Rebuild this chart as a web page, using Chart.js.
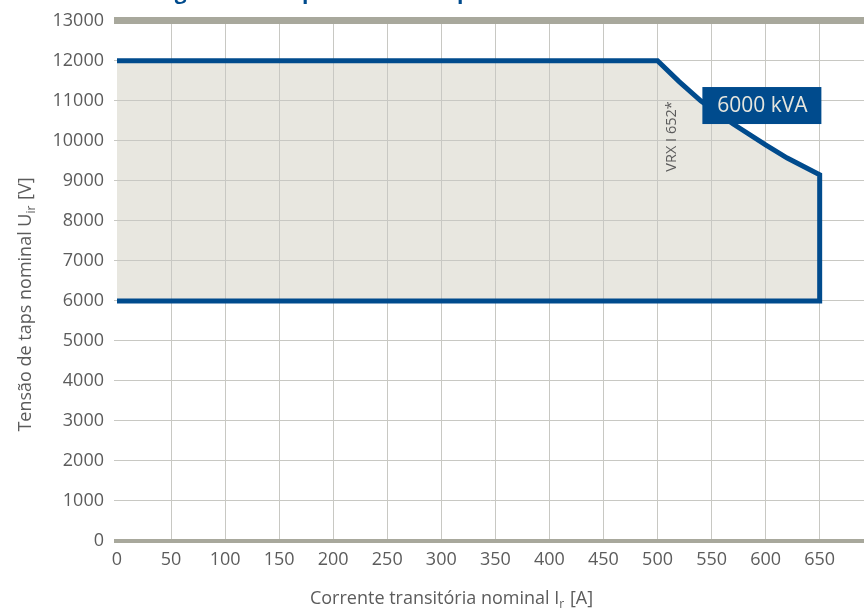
<!DOCTYPE html>
<html>
<head>
<meta charset="utf-8">
<script src="https://cdn.jsdelivr.net/npm/chart.js@4/dist/chart.umd.min.js"></script>
<style>
html, body { margin: 0; padding: 0; background: #fff; }
</style>
</head>
<body>
<canvas id="chart" width="864" height="610"></canvas>
<script>
// operating window boundary (current A, voltage V)
var currentA = [0, 500, 520, 540, 570, 600, 620, 650, 650, 0];
var voltageV = [12000, 12000, 11480, 11000, 10420, 9900, 9570, 9150, 6000, 6000];
var xTicks = [0, 50, 100, 150, 200, 250, 300, 350, 400, 450, 500, 550, 600, 650];
var yTicks = [0, 1000, 2000, 3000, 4000, 5000, 6000, 7000, 8000, 9000, 10000, 11000, 12000, 13000];

var ratingLabel = "6000 kVA";
var ratingPos = [597, 10870];
var typeLabel = "VRX I 652*";
var typePos = [513, 10110];
var titleText = "Diagrama de capacidade de ruptura do comutador";

var blue = "#004b8d";
var textGray = "#5c5c5c";
var font = "'Open Sans', 'DejaVu Sans', sans-serif";

// width of "main" + subscript + "rest"
function textWidthSub(c, main, sub, rest) {
    c.font = "18px " + font;
    var w = c.measureText(main).width + c.measureText(rest).width;
    c.font = "12px " + font;
    return w + c.measureText(sub).width;
}
function drawSub(c, main, sub, rest, x, y) {
    c.font = "18px " + font;
    c.fillText(main, x, y);
    x += c.measureText(main).width;
    c.font = "12px " + font;
    c.fillText(sub, x, y + 4);
    x += c.measureText(sub).width + 1;
    c.font = "18px " + font;
    c.fillText(rest, x, y);
}

var notesPlugin = {
    id: 'notes',
    afterDatasetsDraw: function (chart) {
        var c = chart.ctx;
        var xs = chart.scales.x, ys = chart.scales.y;
        c.save();
        // rating box
        var bx = xs.getPixelForValue(ratingPos[0]);
        var by = ys.getPixelForValue(ratingPos[1]);
        c.fillStyle = blue;
        c.fillRect(bx - 60, by - 19, 119, 37);
        c.fillStyle = "#e6e6de";
        c.font = "21px " + font;
        c.textAlign = "center";
        c.textBaseline = "middle";
        c.fillText(ratingLabel, bx, by);
        // rotated type label
        var tx = xs.getPixelForValue(typePos[0]);
        var ty = ys.getPixelForValue(typePos[1]);
        c.translate(tx, ty);
        c.rotate(-Math.PI / 2);
        c.fillStyle = textGray;
        c.font = "14.5px " + font;
        c.fillText(typeLabel, 0, 0);
        c.restore();
    },
    afterDraw: function (chart) {
        var c = chart.ctx;
        c.save();
        c.fillStyle = textGray;
        c.textAlign = "left";
        c.textBaseline = "alphabetic";
        // x title
        var w = textWidthSub(c, "Corrente transitória nominal I", "r", " [A]");
        drawSub(c, "Corrente transitória nominal I", "r", " [A]", 451 - w / 2, 604);
        // y title
        c.translate(31, 305);
        c.rotate(-Math.PI / 2);
        w = textWidthSub(c, "Tensão de taps nominal U", "ir", " [V]");
        drawSub(c, "Tensão de taps nominal U", "ir", " [V]", -w / 2, 0);
        c.restore();
        // cut off heading at the very top
        c.save();
        c.fillStyle = blue;
        c.font = "bold 21px " + font;
        c.textBaseline = "alphabetic";
        c.fillText(titleText, 140, -1);
        c.restore();
    }
};

var points = [];
for (var i = 0; i < currentA.length; i++) {
    points.push({x: currentA[i], y: voltageV[i]});
}

new Chart(document.getElementById("chart").getContext("2d"), {
    type: 'scatter',
    data: {
        datasets: [{
            data: points,
            showLine: true,
            borderColor: blue,
            borderWidth: 5,
            borderJoinStyle: 'miter',
            borderCapStyle: 'butt',
            backgroundColor: "#e8e7e0",
            fill: 'shape',
            pointRadius: 0,
            tension: 0
        }]
    },
    options: {
        responsive: false,
        animation: false,
        layout: {padding: {top: 19, right: 0, bottom: 0, left: 0}},
        plugins: {
            legend: {display: false},
            tooltip: {enabled: false},
            filler: {drawTime: 'beforeDraw'}
        },
        scales: {
            x: {
                type: 'linear',
                min: 0,
                max: 691,
                afterBuildTicks: function (axis) {
                    axis.ticks = xTicks.map(function (v) { return {value: v}; });
                },
                afterFit: function (scale) { scale.height = 69; },
                border: {display: false},
                grid: {
                    drawTicks: false,
                    color: function (ctx) {
                        return ctx.tick && ctx.tick.value === 0 ? "rgba(0,0,0,0)" : "#c8c8c3";
                    },
                    lineWidth: 1
                },
                ticks: {
                    color: textGray,
                    font: {family: font, size: 18},
                    padding: 8,
                    maxRotation: 0,
                    autoSkip: false,
                    callback: function (v) { return String(v); }
                }
            },
            y: {
                min: 0,
                max: 13000,
                afterBuildTicks: function (axis) {
                    axis.ticks = yTicks.map(function (v) { return {value: v}; });
                },
                afterFit: function (scale) { scale.width = 117; },
                border: {display: false},
                grid: {
                    tickLength: 3,
                    color: function (ctx) {
                        var v = ctx.tick ? ctx.tick.value : -1;
                        return (v === 13000 || v === 0) ? "#a8a89c" : "#c8c8c3";
                    },
                    lineWidth: function (ctx) {
                        var v = ctx.tick ? ctx.tick.value : -1;
                        if (v === 13000) return 7;
                        if (v === 0) return 4;
                        return 1;
                    }
                },
                ticks: {
                    color: textGray,
                    font: {family: font, size: 18},
                    padding: 10,
                    autoSkip: false,
                    callback: function (v) { return String(v); }
                }
            }
        }
    },
    plugins: [notesPlugin]
});
</script>
</body>
</html>
